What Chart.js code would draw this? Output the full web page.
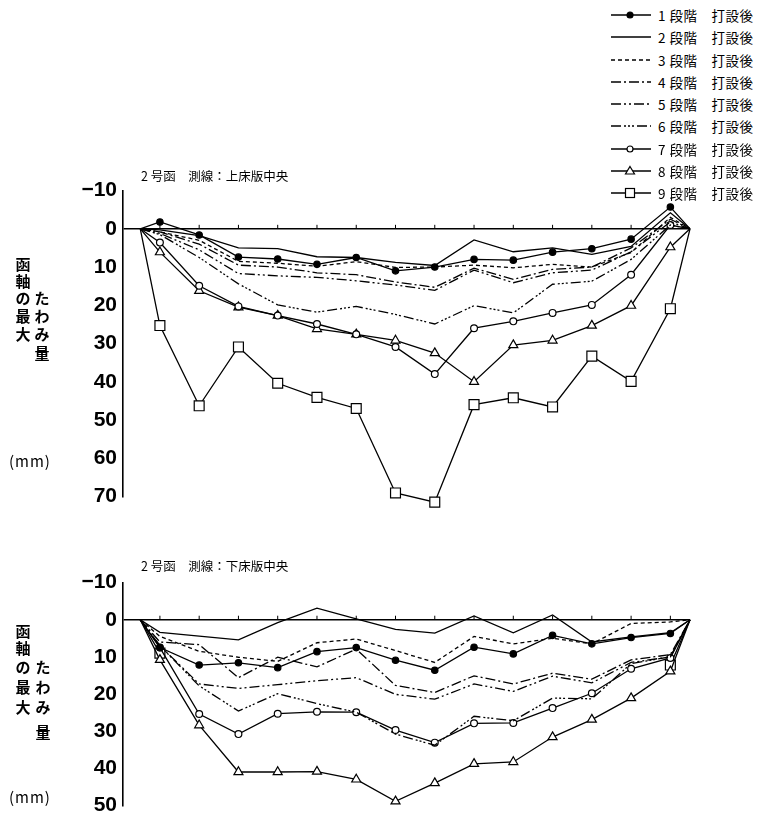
<!DOCTYPE html>
<html><head><meta charset="utf-8">
<script src="https://cdn.jsdelivr.net/npm/chart.js@4.4.1/dist/chart.umd.min.js"></script>
<style>
html,body{margin:0;padding:0;background:#fff}
body{width:759px;height:824px;position:relative;overflow:hidden;font-family:"Noto Sans CJK JP",sans-serif;color:#000}
canvas{position:absolute;left:0}
.t{position:absolute;white-space:nowrap;line-height:1}
.ch{position:absolute;font-size:15px;line-height:1;font-weight:bold;transform:translate(-50%,-50%)}
#legend .row{position:absolute;left:610px;height:14px;display:flex;align-items:center}
#legend .row span{font-size:13.5px;margin-left:6px;letter-spacing:0.5px}
</style></head>
<body>
<canvas id="c1" width="700" height="343" style="top:172px"></canvas>
<canvas id="c2" width="700" height="260" style="top:564px"></canvas>
<div class="t" style="left:141px;top:170px;font-size:12.5px">2 号函　測線：上床版中央</div>
<div class="t" style="left:141px;top:560px;font-size:12.5px">2 号函　測線：下床版中央</div>
<div class="t" style="left:9px;top:453px;font-size:15px;letter-spacing:1px">(mm)</div>
<div class="t" style="left:9px;top:789px;font-size:15px;letter-spacing:1px">(mm)</div>
<div id="ytitle"></div>
<div id="legend"></div>
<script>
// ---- data ----
const stations = [1,2,3,4,5,6,7,8,9,10,11,12,13,14];
const startStation = 0.5;
const endStation = 14.5;
const seriesNames = ['1 段階　打設後','2 段階　打設後','3 段階　打設後','4 段階　打設後','5 段階　打設後','6 段階　打設後','7 段階　打設後','8 段階　打設後','9 段階　打設後'];
const topTickValues = [-10,0,10,20,30,40,50,60,70];
const topTickLabels = ['−10','0','10','20','30','40','50','60','70'];
const bottomTickValues = [-10,0,10,20,30,40,50];
const bottomTickLabels = ['−10','0','10','20','30','40','50'];

// upper slab centre (上床版中央)
const upper1 = [-1.8, 1.6, 7.4, 7.9, 9.3, 7.5, 11.0, 10.0, 8.0, 8.2, 6.1, 5.2, 2.7, -5.7];
const upper2 = [0.3, 1.8, 5.0, 5.2, 7.3, 7.5, 8.8, 9.6, 2.9, 6.0, 5.0, 6.7, 4.6, -4.2];
const upper3 = [0.8, 3.0, 8.5, 9.0, 9.8, 8.6, 10.1, 10.0, 9.5, 10.2, 9.3, 10.0, 6.2, -3.0];
const upper4 = [0.8, 4.0, 9.5, 10.0, 11.5, 12.0, 13.9, 15.3, 10.3, 13.2, 10.6, 10.0, 5.0, -2.5];
const upper5 = [1.2, 5.5, 11.7, 12.3, 12.7, 13.6, 14.7, 16.1, 10.8, 14.1, 11.5, 10.8, 6.0, -1.8];
const upper6 = [1.5, 7.5, 14.4, 19.9, 21.8, 20.3, 22.4, 24.9, 20.1, 22.0, 14.5, 13.7, 8.0, -1.0];
const upper7 = [3.6, 14.9, 20.3, 22.7, 24.9, 27.6, 30.9, 38.0, 26.0, 24.2, 22.0, 19.9, 12.0, -1.0];
const upper8 = [6.1, 16.2, 20.5, 22.7, 26.2, 27.6, 29.2, 32.5, 40.0, 30.4, 29.2, 25.3, 20.1, 4.8];
const upper9 = [25.3, 46.3, 30.9, 40.4, 44.1, 47.0, 69.1, 71.5, 46.0, 44.2, 46.6, 33.3, 39.9, 20.9];

// lower slab centre (下床版中央)
const lower1 = [7.5, 12.2, 11.6, 12.9, 8.6, 7.5, 10.9, 13.6, 7.4, 9.2, 4.2, 6.5, 4.8, 3.7];
const lower2 = [3.4, 4.4, 5.4, 0.8, -3.1, -0.2, 2.6, 3.6, -1.0, 3.5, -1.3, 6.0, 4.6, 3.5];
const lower3 = [4.5, 8.5, 10.1, 11.2, 6.2, 5.2, 8.3, 11.5, 4.5, 6.5, 5.0, 6.5, 1.0, 0.6];
const lower4 = [6.0, 6.7, 15.6, 10.1, 12.7, 7.9, 17.7, 19.6, 15.1, 17.3, 14.4, 16.0, 10.8, 9.4];
const lower5 = [7.0, 17.3, 18.5, 17.5, 16.4, 15.6, 20.1, 21.4, 17.3, 19.3, 15.2, 17.0, 11.5, 10.0];
const lower6 = [7.0, 17.8, 24.6, 19.9, 22.6, 24.9, 30.8, 33.8, 26.0, 27.2, 21.1, 21.3, 11.8, 10.0];
const lower7 = [7.5, 25.4, 30.8, 25.3, 24.8, 24.9, 29.7, 33.1, 27.9, 27.8, 23.8, 19.8, 13.2, 10.3];
const lower8 = [10.8, 28.4, 41.0, 41.0, 40.9, 43.0, 48.9, 44.0, 38.8, 38.3, 31.6, 26.9, 21.1, 13.9];
const lower9 = [9.0, null, null, null, null, null, null, null, null, null, null, null, null, 12.2];

// ---- styles ----
const styles = [
  {dash:[], marker:'circle', fill:'#000', r:3.2},
  {dash:[], marker:null},
  {dash:[4,3], marker:null},
  {dash:[10,3,2,3], marker:null},
  {dash:[10,3,2,3,2,3], marker:null},
  {dash:[10,3,2,2,2,2,2,3], marker:null},
  {dash:[], marker:'circle', fill:'#fff', r:3.4},
  {dash:[], marker:'triangle', fill:'#fff', r:5.2},
  {dash:[], marker:'rect', fill:'#fff', r:7}
];

function makeDatasets(seriesList){
  return seriesList.map((vals,i)=>{
    const st = styles[i];
    const data = [{x:startStation,y:0}]
      .concat(stations.map((s,k)=>({x:s,y:vals[k]})))
      .concat([{x:endStation,y:0}]);
    const last = data.length-1;
    return {
      label: seriesNames[i],
      data,
      borderColor:'#000',
      borderWidth:1.3,
      borderDash: st.dash,
      tension:0,
      spanGaps:false,
      clip:false,
      pointStyle: st.marker || 'circle',
      pointRadius: c => (!st.marker || c.dataIndex===0 || c.dataIndex===last) ? 0 : st.r,
      pointHoverRadius: 0,
      pointBackgroundColor: st.fill || '#000',
      pointBorderColor:'#000',
      pointBorderWidth:1.2
    };
  });
}

const stationTicks = {
  id:'stationTicks',
  beforeDatasetsDraw(chart){
    const {ctx, scales:{x,y}} = chart;
    const y0 = y.getPixelForValue(0);
    ctx.save(); ctx.strokeStyle='#000'; ctx.lineWidth=1;
    stations.forEach(s=>{
      const px = x.getPixelForValue(s);
      ctx.beginPath(); ctx.moveTo(px,y0); ctx.lineTo(px,y0-4); ctx.stroke();
    });
    ctx.restore();
  }
};

function makeChart(id, seriesList, ymax, tickValues, tickLabels){
  return new Chart(document.getElementById(id), {
    type:'line',
    data:{datasets: makeDatasets(seriesList)},
    plugins:[stationTicks],
    options:{
      responsive:false, animation:false, devicePixelRatio:1,
      layout:{padding:{left:0,right:10,top:14,bottom:12}},
      plugins:{legend:{display:false}, tooltip:{enabled:false}},
      scales:{
        x:{type:'linear', display:false, min:0.06, max:endStation},
        y:{
          type:'linear', reverse:true, min:-10, max:ymax,
          afterFit(s){ s.width = 123; },
          border:{display:true, color:'#000', width:1.6},
          grid:{drawTicks:false, lineWidth:1.6,
                color: c => (c.tick && c.tick.value===0) ? '#000' : 'rgba(0,0,0,0)'},
          ticks:{stepSize:10, padding:6, color:'#000',
                 font:{family:"'Liberation Sans Narrow','Liberation Sans'", size:21, weight:'bold'},
                 callback:(v)=>{ const k = tickValues.indexOf(v); return k<0 ? '' : tickLabels[k]; }}
        }
      }
    }
  });
}

makeChart('c1', [upper1,upper2,upper3,upper4,upper5,upper6,upper7,upper8,upper9], 70, topTickValues, topTickLabels);
makeChart('c2', [lower1,lower2,lower3,lower4,lower5,lower6,lower7,lower8,lower9], 50, bottomTickValues, bottomTickLabels);

// ---- y-axis titles (vertical Japanese) ----
const yt = document.getElementById('ytitle');
function placeCol(text, x, ys){
  [...text].forEach((ch,k)=>{
    const d=document.createElement('div'); d.className='ch'; d.textContent=ch;
    d.style.left=x+'px'; d.style.top=ys[k]+'px'; yt.appendChild(d);
  });
}
placeCol('函軸の最大', 23, [263,280,297,315,333]);
placeCol('たわみ量', 42, [297,315,333,352]);
placeCol('函軸の最大', 23, [630,647,666,686,706]);
placeCol('たわみ量', 43, [666,686,706,731]);

// ---- legend ----
const lg = document.getElementById('legend');
const legendY = [15,37,60,82,104,126,149,171,193];
seriesNames.forEach((name,i)=>{
  const st = styles[i];
  const row = document.createElement('div'); row.className='row';
  row.style.top = (legendY[i]-7)+'px';
  let marker='';
  if(st.marker==='circle') marker=`<circle cx="20" cy="7" r="3" fill="${st.fill}" stroke="#000" stroke-width="1.2"/>`;
  if(st.marker==='triangle') marker=`<polygon points="20,2.5 24.5,10 15.5,10" fill="#fff" stroke="#000" stroke-width="1.2"/>`;
  if(st.marker==='rect') marker=`<rect x="15.5" y="2.5" width="9" height="9" fill="#fff" stroke="#000" stroke-width="1.2"/>`;
  row.innerHTML = `<svg width="42" height="14"><line x1="1" y1="7" x2="41" y2="7" stroke="#000" stroke-width="1.4" stroke-dasharray="${st.dash.length?st.dash.join(','):'none'}"/>${marker}</svg><span>${name}</span>`;
  lg.appendChild(row);
});
</script>
</body></html>
